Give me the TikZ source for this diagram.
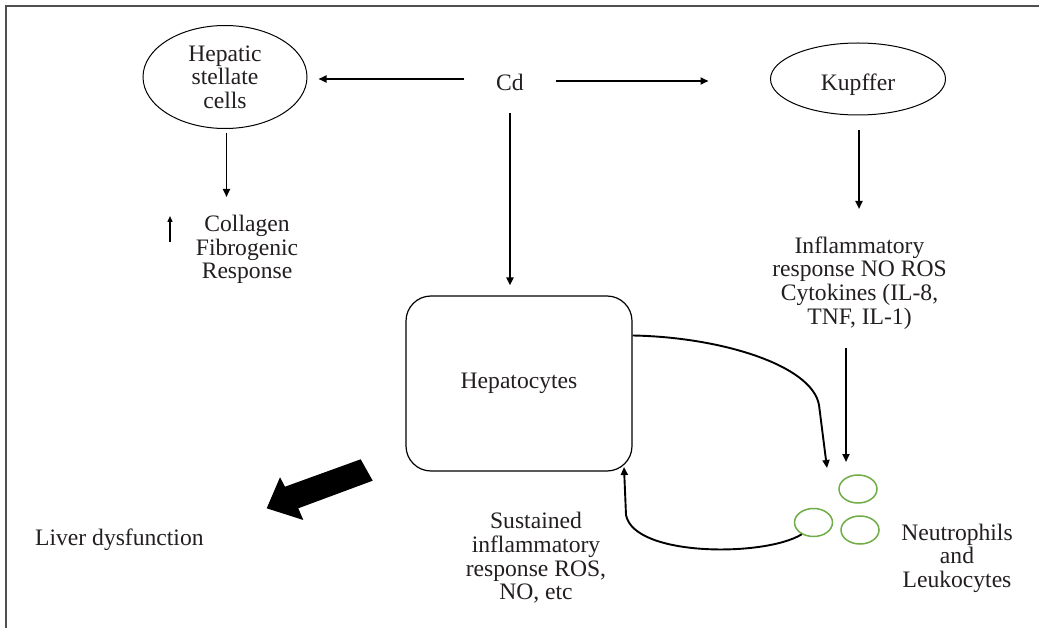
\documentclass[tikz,border=0pt]{standalone}
\usepackage{fontspec}
\setmainfont{Liberation Serif}
\newfontfamily\diagfont{Liberation Serif}
\usetikzlibrary{arrows.meta,shapes.geometric}
\definecolor{txt}{RGB}{35,31,32}
\definecolor{cellgreen}{RGB}{112,173,71}
\definecolor{framec}{RGB}{80,80,80}
\begin{document}
\begin{tikzpicture}[x=1pt,y=-1pt,
  every node/.style={font=\diagfont\fontsize{23.6}{23.6}\selectfont, text=txt, inner sep=0pt},
  lbl/.style={align=center},
  conn/.style={draw=black, line width=1.9pt, -{Triangle[length=8pt,width=7pt]}},
  oval/.style={ellipse, draw=black, line width=1pt},
  cell/.style={ellipse, draw=cellgreen, line width=1.5pt, minimum width=38pt, minimum height=28pt},
]
\useasboundingbox (0,0) rectangle (1039,628);
\fill[white] (0,0) rectangle (1039,628);
\draw[framec, line width=1.3pt] (6,628) -- (6,6) -- (1039,6);

% nodes
\node[oval, minimum width=164pt, minimum height=103pt, lbl] (hsc) at (225,77) {Hepatic\\stellate\\cells};
\node[minimum width=91pt, minimum height=62pt] (cd) at (510,82) {Cd};
\node[oval, minimum width=175pt, minimum height=72pt, text height=24pt, text depth=0pt] (kup) at (858,79) {Kupffer};
\node[lbl] (coll) at (247,249.5) {Collagen\\Fibrogenic\\Response};
\node[lbl] (infl) at (859.5,283) {Inflammatory\\response NO ROS\\Cytokines (IL-8,\\TNF, IL-1)};
\node[draw=black, line width=1.2pt, rounded corners=25pt, minimum width=226pt, minimum height=175pt] (hep) at (519,383.5) {Hepatocytes};
\node[cell] (c1) at (858,489) {};
\node[cell] (c2) at (813.5,522.5) {};
\node[cell] (c3) at (860,530) {};
\node[lbl] (neu) at (957,558) {Neutrophils\\and\\Leukocytes};
\node[lbl] (sus) at (536,558) {Sustained\\inflammatory\\response ROS,\\NO, etc};
\node[anchor=west] (liver) at (35,539.5) {Liver dysfunction};

% up symbol next to Collagen
\coordinate (upbase) at (170,242);
\coordinate (uptip) at (170,216);
\draw[line width=1.4pt, -{Triangle[length=6pt,width=5pt]}] (upbase) -- (uptip);

% big arrow
\fill[black] (360.7,459.3) -- (285,486.7) -- (280,477.3) -- (266.7,508.3) -- (303.3,520) -- (298.3,508.3) -- (372.7,480.7) -- cycle;

% connector end points
\coordinate (hscend) at (226.5,197);
\coordinate (kupend) at (859,209);
\coordinate (inflend) at (846,462);
\coordinate (neuin) at (827,468);
\coordinate (hepin) at (624,467);

% connectors
\draw[conn, shorten >=11pt] ([yshift=3pt]cd.west) -- ([yshift=3pt]cd.west -| hsc.east);
\draw[conn, shorten >=61.5pt] ([yshift=1pt]cd.east) -- ([yshift=1pt]cd.east -| kup.west);
\draw[conn, shorten >=10pt] (cd.south) -- (cd.south |- hep.north);
\draw[conn, shorten <=4pt] (hscend |- hsc.south) -- (hscend);
\draw[conn, shorten <=15pt] (kupend |- kup.south) -- (kupend);
\draw[conn, shorten <=19pt] (inflend |- infl.south) -- (inflend);
\draw[conn] ([yshift=48pt]hep.east) .. controls (720,337) and (812,365) .. (819,405) -- (neuin);
\draw[conn] (c2.225) .. controls (765,557) and (634,557) .. (626,515) -- (hepin);
\end{tikzpicture}
\end{document}
